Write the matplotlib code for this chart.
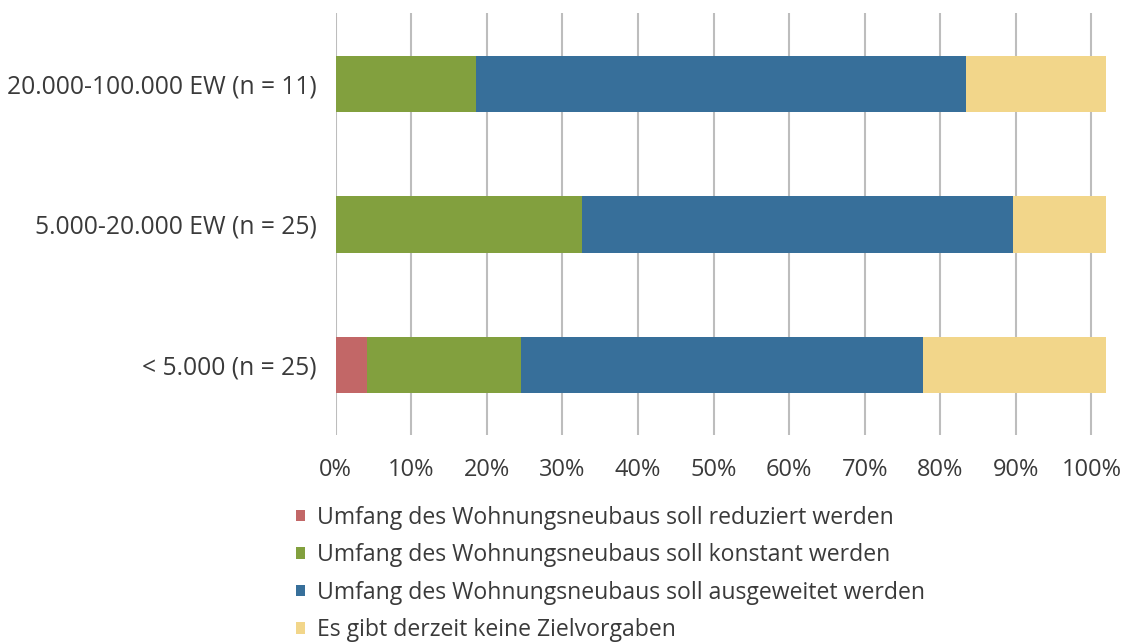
import matplotlib
matplotlib.use("Agg")
import matplotlib.pyplot as plt
from matplotlib.patches import Patch

categories = ["< 5.000 (n = 25)", "5.000-20.000 EW (n = 25)", "20.000-100.000 EW (n = 11)"]
series_names = [
    "Umfang des Wohnungsneubaus soll reduziert werden",
    "Umfang des Wohnungsneubaus soll konstant werden",
    "Umfang des Wohnungsneubaus soll ausgeweitet werden",
    "Es gibt derzeit keine Zielvorgaben",
]
reduziert = [4.1, 0.0, 0.0]
konstant = [20.4, 32.6, 18.5]
ausgeweitet = [53.2, 57.1, 64.9]
keine = [24.3, 12.2, 18.6]
tick_values = [0, 10, 20, 30, 40, 50, 60, 70, 80, 90, 100]
tick_labels = [f"{v}%" for v in tick_values]
colors = ["#C26767", "#82A03E", "#376F9A", "#F2D68A"]

plt.rcParams["font.family"] = ["Open Sans", "DejaVu Sans"]
text_color = "#3A3A3A"

fig = plt.figure(figsize=(11.21, 6.42), dpi=100)
ax = fig.add_axes([0.2995, 0.3217, 0.6875, 0.6573])

series = [reduziert, konstant, ausgeweitet, keine]
y = list(range(len(categories)))
left = [0.0] * len(categories)
for vals, col, name in zip(series, colors, series_names):
    ax.barh(y, vals, left=left, height=0.40, color=col, label=name, zorder=3)
    left = [l + v for l, v in zip(left, vals)]

ax.set_xlim(0, 102.0)
ax.set_ylim(-0.5, 2.5)
ax.set_xticks(tick_values)
ax.set_xticklabels(tick_labels)
ax.set_yticks(y)
ax.set_yticklabels(categories)
ax.tick_params(axis="both", length=0, colors=text_color)
ax.tick_params(axis="x", pad=16, labelsize=17)
ax.tick_params(axis="y", pad=14, labelsize=17.7)
ax.grid(axis="x", color="#BDBDBD", linewidth=1.5, zorder=0)
for s in ax.spines.values():
    s.set_visible(False)

handles = [Patch(facecolor=c, edgecolor="none") for c in colors]
fig.legend(handles, series_names, loc="upper left", bbox_to_anchor=(0.264, 0.2125),
           frameon=False, fontsize=16.6, handlelength=0.4, handleheight=0.4,
           handletextpad=0.52, labelspacing=0.59, borderaxespad=0, borderpad=0,
           labelcolor=text_color)

fig.savefig("out.png", dpi=100)
